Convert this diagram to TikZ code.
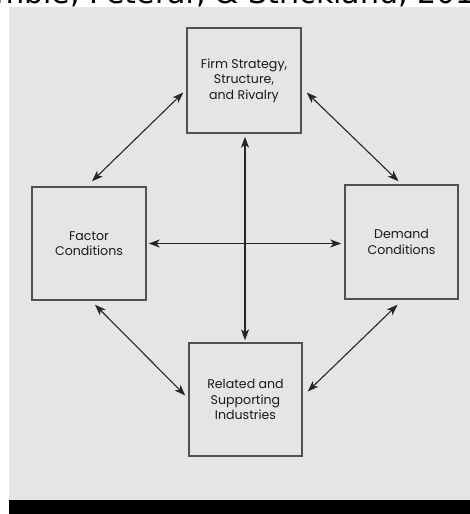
\documentclass[tikz,border=0pt]{standalone}
\usepackage{fontspec}
\setmainfont{Poppins}
\newfontfamily\capfont{DejaVu Sans}
\usetikzlibrary{arrows.meta,calc}
\definecolor{bggray}{HTML}{E5E5E5}
\definecolor{boxline}{HTML}{505050}
\definecolor{txt}{HTML}{1A1A1A}
\tikzset{
  diamondbox/.style={draw=boxline, line width=1.4pt, fill=bggray, minimum width=#1, inner sep=0pt,
    align=center, text=txt, font=\fontsize{12.6}{15.5}\selectfont},
  link/.style={{Stealth[length=11pt,width=8pt,inset=3pt]}-{Stealth[length=11pt,width=8pt,inset=3pt]},
    line width=1.1pt, draw=black!85},
}
\begin{document}
\begin{tikzpicture}[x=1pt,y=-1pt]
\useasboundingbox (0,0) rectangle (470,514);
\fill[white] (0,0) rectangle (470,514);
\fill[bggray] (9,7) rectangle (470,500);
\fill[black] (9,500) rectangle (470,514);
\node[anchor=base west, inner sep=0pt, font=\capfont\fontsize{30}{30}\selectfont, text=black] (cap) at (-5,4) {mble, Peteraf, \& Strickland, 201};
\node[diamondbox=114pt, minimum height=105pt] (top) at (244,80.5) {Firm Strategy,\\Structure,\\and Rivalry};
\node[diamondbox=114pt, minimum height=113pt] (left) at (89,243.5) {Factor\\Conditions};
\node[diamondbox=113pt, minimum height=114pt] (right) at (401.5,242) {Demand\\Conditions};
\node[diamondbox=113pt, minimum height=113pt] (bottom) at (245.5,399.5) {Related and\\Supporting\\Industries};
\draw[link] ($(top.south)+(1,3)$) -- ($(bottom.north)+(-0.5,-2)$);
\draw[link] ($(left.east)+(2,0)$) -- ($(right.west)+(-3,1.5)$);
\draw[link] ($(top.west)+(-3,12)$) -- ($(left.north)+(3,-5)$);
\draw[link] ($(top.east)+(5,12)$) -- ($(right.north)+(-3,-3)$);
\draw[link] ($(left.south)+(6,4)$) -- ($(bottom.west)+(-3,-4)$);
\draw[link] ($(right.south)+(-4,5)$) -- ($(bottom.east)+(5,-8)$);
\end{tikzpicture}
\end{document}
